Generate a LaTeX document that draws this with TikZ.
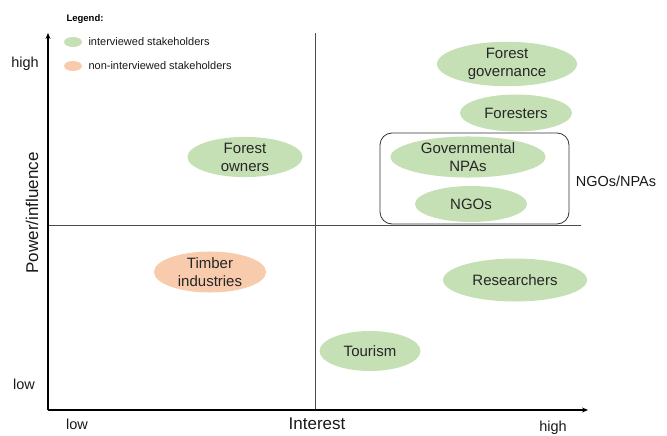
\documentclass[tikz,border=0pt]{standalone}
\usepackage{fontspec}
\setmainfont{Liberation Sans}
\usetikzlibrary{shapes.geometric,arrows.meta}
\definecolor{igreen}{HTML}{C5E0B4}
\definecolor{iorange}{HTML}{F8CBAD}
\begin{document}
\begin{tikzpicture}[x=1pt,y=-1pt,
  stake/.style={ellipse, fill=igreen, draw=none, inner sep=0pt, align=center,
    font=\fontsize{15}{18}\selectfont, text=black!85},
  nonstake/.style={stake, fill=iorange},
  axis/.style={line width=1.2pt, -{Stealth[length=6pt,width=5pt]}},
  mid/.style={line width=0.6pt, black!70},
  lbl/.style={font=\fontsize{14.5}{17}\selectfont, text=black!90},
  axlbl/.style={font=\fontsize{17}{20}\selectfont, text=black!90},
  leg/.style={font=\fontsize{11}{13}\selectfont, text=black!90, anchor=west}]
\useasboundingbox (0,0) rectangle (667,436);
% axes
\coordinate (O) at (48,410);
\coordinate (ytip) at (48,33);
\coordinate (xtip) at (588,410);
\coordinate (vtop) at (315,33);
\coordinate (vbot) at (315,410);
\coordinate (hl) at (48,225);
\coordinate (hr) at (581,225);
\draw[mid] (vtop) -- (vbot);
\draw[mid] (hl) -- (hr);
\draw[axis] (O) -- (ytip);
\draw[axis] (O) -- (xtip);
% axis labels
\node[lbl] (yhigh) at (25,64) {high};
\node[lbl] (ylow) at (24,384) {low};
\node[axlbl, rotate=90] (ylab) at (32,213) {Power/influence};
\node[lbl] (xlow) at (77,424) {low};
\node[axlbl] (xlab) at (317,424) {Interest};
\node[lbl] (xhigh) at (553,428) {high};
% legend
\node[font=\fontsize{9.5}{11}\selectfont\bfseries, anchor=west] (legt) at (63,19) {Legend:};
\node[ellipse, fill=igreen, minimum width=18pt, minimum height=10pt, inner sep=0pt] (lg) at (73,42) {};
\node[leg] (lgt) at (85,42) {interviewed stakeholders};
\node[ellipse, fill=iorange, minimum width=18pt, minimum height=10pt, inner sep=0pt] (lo) at (73,66) {};
\node[leg] (lot) at (85,66) {non-interviewed stakeholders};
% group box
\node[draw=black!80, line width=0.8pt, rounded corners=12pt, minimum width=189pt, minimum height=91pt] (grp) at (474.5,178.5) {};
\node[lbl] (grplab) at (616,181) {NGOs/NPAs};
% stakeholders
\node[stake, minimum width=140pt, minimum height=40pt] (fg) at (507,64) {Forest\\governance};
\node[stake, minimum width=112pt, minimum height=37pt] (fo) at (516,113) {Foresters};
\node[stake, minimum width=155pt, minimum height=40pt] (gn) at (468,157) {Governmental\\NPAs};
\node[stake, minimum width=112pt, minimum height=36pt] (ngo) at (471,204) {NGOs};
\node[stake, minimum width=115pt, minimum height=39pt] (fow) at (245,157) {Forest\\owners};
\node[nonstake, minimum width=112pt, minimum height=40pt] (ti) at (210,272) {Timber\\industries};
\node[stake, minimum width=144pt, minimum height=43pt] (re) at (515,280) {Researchers};
\node[stake, minimum width=101pt, minimum height=40pt] (to) at (370,351) {Tourism};
\end{tikzpicture}
\end{document}
